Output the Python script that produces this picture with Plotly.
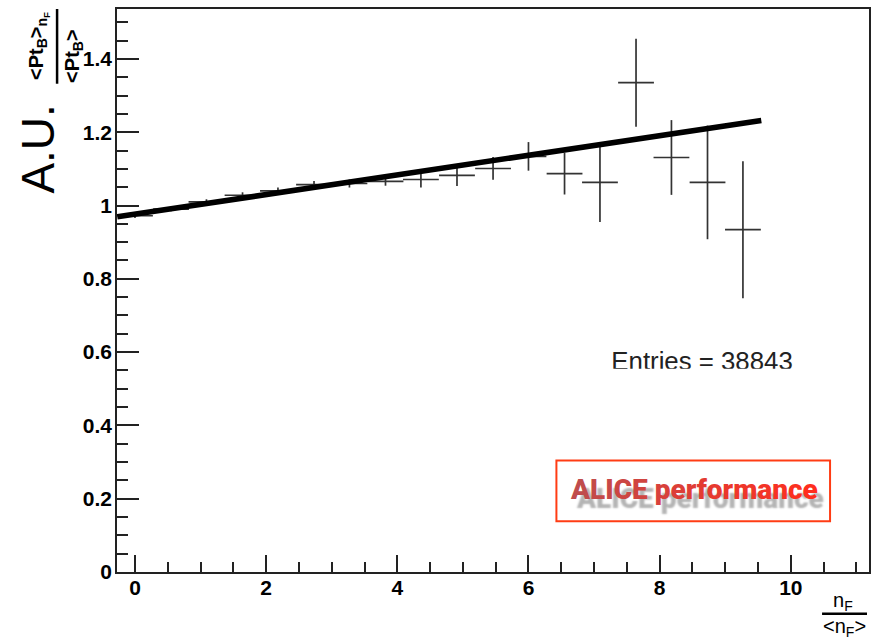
import plotly.graph_objects as go

# <Pt_B> in bins of n_F/<n_F>, normalised to the inclusive <Pt_B>
n_f_ratio = [0.00, 0.55, 1.09, 1.64, 2.18, 2.73, 3.27, 3.82, 4.36,
             4.91, 5.46, 6.00, 6.55, 7.09, 7.64, 8.18, 8.73, 9.27]
pt_ratio = [0.972, 0.990, 1.010, 1.028, 1.040, 1.057, 1.060, 1.066, 1.071,
            1.082, 1.101, 1.134, 1.087, 1.063, 1.335, 1.131, 1.063, 0.934]
pt_ratio_err = [0.006, 0.006, 0.007, 0.008, 0.009, 0.010, 0.011, 0.012, 0.022,
                0.029, 0.031, 0.039, 0.057, 0.108, 0.120, 0.102, 0.155, 0.187]
bin_half_width = 0.273

# linear fit drawn over the fitted range
fit_x = [-0.27, 9.55]
fit_y = [0.969, 1.232]

entries = 38843

x_ticks = [0, 2, 4, 6, 8, 10]
y_ticks = [0, 0.2, 0.4, 0.6, 0.8, 1.0, 1.2, 1.4]

# plot-area edges in pixels (878 x 641 canvas)
PL, PR, PT, PB = 117, 870, 7, 572


def px(xp):
    return (xp - PL) / (PR - PL)


def py(yp):
    return (PB - yp) / (PB - PT)


TICK_FONT = dict(family="Liberation Sans, Arial, sans-serif", size=21,
                 color="black", weight="bold")
LABEL_FONT = "Liberation Sans, Arial, sans-serif"

fig = go.Figure()

fig.add_trace(go.Scatter(
    x=n_f_ratio, y=pt_ratio, mode="markers",
    marker=dict(size=1, color="#333333"),
    error_x=dict(type="constant", value=bin_half_width, width=0,
                 thickness=1.7, color="#333333"),
    error_y=dict(type="data", array=pt_ratio_err, width=0,
                 thickness=1.7, color="#333333"),
    showlegend=False, hoverinfo="skip",
))

fig.add_trace(go.Scatter(
    x=fit_x, y=fit_y, mode="lines",
    line=dict(color="black", width=5.5),
    showlegend=False, hoverinfo="skip",
))

# statistics box, only its top line shows above the lower clip edge
fig.add_trace(go.Scatter(
    x=[612], y=[362.5], mode="text",
    text=[f"Entries = {entries}"], textposition="middle right",
    textfont=dict(family=LABEL_FONT, size=25.8, color="#222222"),
    cliponaxis=True, xaxis="x2", yaxis="y2",
    showlegend=False, hoverinfo="skip",
))

fig.update_layout(
    width=878, height=641,
    margin=dict(l=PL, r=878 - PR, t=PT, b=641 - PB, pad=0),
    paper_bgcolor="white", plot_bgcolor="rgba(0,0,0,0)",
    xaxis=dict(
        range=[(PL - 135) / 65.67, (PR - 135) / 65.67],
        tickvals=x_ticks, ticktext=[str(v) for v in x_ticks],
        ticks="inside", ticklen=17, tickwidth=1.5, tickcolor="#222222",
        minor=dict(ticks="inside", ticklen=10, tickwidth=1.5,
                   tickcolor="#222222", dtick=0.5, tick0=0),
        showline=True, linecolor="#222222", linewidth=1.5, mirror=True,
        showgrid=False, zeroline=False, tickfont=TICK_FONT,
        ticklabelstandoff=-4,
    ),
    yaxis=dict(
        range=[0, (572.3 - PT) / 368.0],
        tickvals=y_ticks, ticktext=["0", "0.2", "0.4", "0.6", "0.8", "1", "1.2", "1.4"],
        ticks="inside", ticklen=22, tickwidth=1.5, tickcolor="#222222",
        minor=dict(ticks="inside", ticklen=11, tickwidth=1.5,
                   tickcolor="#222222", dtick=0.05, tick0=0),
        showline=True, linecolor="#222222", linewidth=1.5, mirror=True,
        showgrid=False, zeroline=False, tickfont=TICK_FONT,
        ticklabelstandoff=-1,
    ),
    xaxis2=dict(domain=[0, 1], anchor="y2", range=[PL, PR], visible=False,
                fixedrange=True),
    yaxis2=dict(domain=[py(368), 1], anchor="x2", range=[368, PT], visible=False,
                fixedrange=True),
)

annotations = []

# y-axis title: "A.U." and the ratio <Pt_B>_nF / <Pt_B>
annotations.append(dict(
    text="A.U.", x=px(37), y=py(148), xref="paper", yref="paper",
    textangle=-90, showarrow=False, xanchor="center", yanchor="middle",
    font=dict(family=LABEL_FONT, size=46, color="black"),
))
annotations.append(dict(
    text="&lt;Pt<sub>B</sub>&gt;<sub>n<sub>F</sub></sub>",
    x=px(39), y=py(44), xref="paper", yref="paper",
    textangle=-90, showarrow=False, xanchor="center", yanchor="middle",
    font=dict(family=LABEL_FONT, size=20, color="black", weight="bold"),
))
annotations.append(dict(
    text="&lt;Pt<sub>B</sub>&gt;",
    x=px(74), y=py(54), xref="paper", yref="paper",
    textangle=-90, showarrow=False, xanchor="center", yanchor="middle",
    font=dict(family=LABEL_FONT, size=20, color="black", weight="bold"),
))

# x-axis title: n_F / <n_F>
annotations.append(dict(
    text="n<sub>F</sub>", x=px(844), y=py(602), xref="paper", yref="paper",
    showarrow=False, xanchor="center", yanchor="middle",
    font=dict(family=LABEL_FONT, size=20, color="black"),
))
annotations.append(dict(
    text="&lt;n<sub>F</sub>&gt;", x=px(845), y=py(628), xref="paper", yref="paper",
    showarrow=False, xanchor="center", yanchor="middle",
    font=dict(family=LABEL_FONT, size=20, color="black"),
))

# ALICE performance logo, red gradient lettering with a grey drop shadow
logo = "ALICE performance"
c0, c1 = (192, 76, 76), (255, 46, 30)
parts = []
for i, ch in enumerate(logo):
    t = i / (len(logo) - 1)
    r, g, b = (round(a + (bb - a) * t) for a, bb in zip(c0, c1))
    parts.append(f'<span style="color:rgb({r},{g},{b})">{ch}</span>' if ch != " " else " ")
annotations.append(dict(
    text="".join(parts), x=px(695), y=py(489), xref="paper", yref="paper",
    showarrow=False, xanchor="center", yanchor="middle",
    font=dict(family="Roboto, Liberation Sans, sans-serif",
              size=28, weight=900, shadow="6px 9px 2px #b4b4b4"),
))

fig.update_layout(annotations=annotations)

shapes = [
    # fraction bar of the y title
    dict(type="line", xref="paper", yref="paper",
         x0=px(57), x1=px(57), y0=py(7), y1=py(82),
         line=dict(color="black", width=2.5)),
    # fraction bar of the x title
    dict(type="line", xref="paper", yref="paper",
         x0=px(823), x1=px(868), y0=py(614), y1=py(614),
         line=dict(color="black", width=2.5)),
    # logo frame
    dict(type="rect", xref="paper", yref="paper",
         x0=px(557), x1=px(831), y0=py(521), y1=py(460),
         line=dict(color="#ff3c14", width=2)),
]
fig.update_layout(shapes=shapes)

fig.write_html("out.html")
